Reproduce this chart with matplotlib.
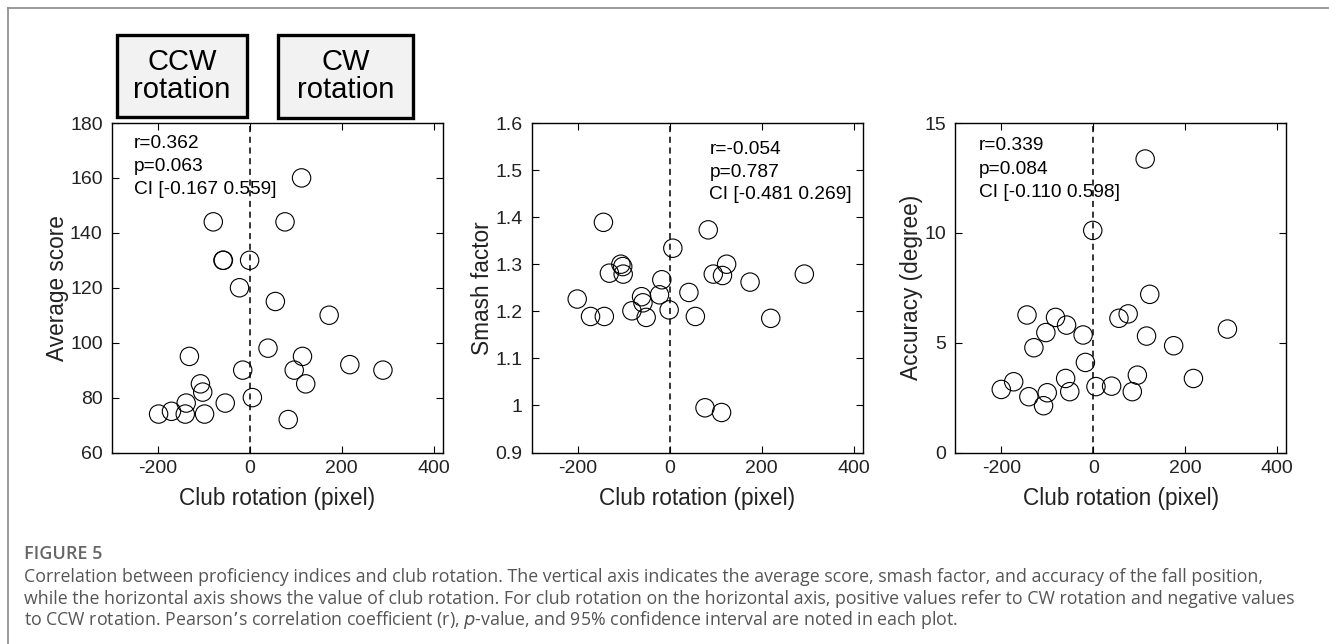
import matplotlib.pyplot as plt
from matplotlib.patches import Rectangle
from matplotlib.lines import Line2D

plt.rcParams['font.family'] = ['Liberation Sans', 'DejaVu Sans']
plt.rcParams['axes.unicode_minus'] = False

# club rotation (pixel) vs. proficiency indices
x_score = [-198, -170, -140, -138, -131, -107, -102, -98, -79, -58, -57, -53,
           -22, -15, 0, 6, 40, 56, 77, 84, 97, 113, 115, 122, 173, 218, 290]
y_score = [74, 75, 74, 78, 95, 85, 82, 74, 144, 130, 130, 78,
           120, 90, 130, 80, 98, 115, 144, 72, 90, 160, 95, 85, 110, 92, 90]

x_smash = [-201, -172, -142, -144, -131, -106, -102, -101, -82, -61, -58, -51,
           -22, -17, -1, 7, 42, 56, 84, 77, 95, 115, 124, 113, 175, 220, 293]
y_smash = [1.226, 1.189, 1.189, 1.389, 1.281, 1.300, 1.295, 1.279, 1.201, 1.231,
           1.218, 1.187, 1.235, 1.267, 1.203, 1.334, 1.240, 1.189, 1.373, 0.995,
           1.279, 1.276, 1.300, 0.985, 1.262, 1.185, 1.279]

x_acc = [-200, -173, -144, -140, -129, -108, -103, -100, -82, -58, -60, -51,
         -22, -17, -1, 6, 40, 56, 76, 85, 96, 113, 116, 123, 175, 218, 292]
y_acc = [2.87, 3.22, 6.26, 2.54, 4.77, 2.13, 5.46, 2.72, 6.15, 5.80, 3.37, 2.77,
         5.35, 4.10, 10.11, 3.00, 3.02, 6.11, 6.31, 2.77, 3.52, 13.36, 5.30, 7.20,
         4.86, 3.37, 5.62]

panels = [
    (x_score, y_score, 'Average score', (60, 180), [60, 80, 100, 120, 140, 160, 180],
     ['r=0.362', 'p=0.063', 'CI [-0.167 0.559]'], 111.7, 0.067, [0.925, 0.854, 0.784]),
    (x_smash, y_smash, 'Smash factor', (0.9, 1.6), [0.9, 1, 1.1, 1.2, 1.3, 1.4, 1.5, 1.6],
     ['r=-0.054', 'p=0.787', 'CI [-0.481 0.269]'], 531.7, 0.537, [0.907, 0.837, 0.768]),
    (x_acc, y_acc, 'Accuracy (degree)', (0, 15), [0, 5, 10, 15],
     ['r=0.339', 'p=0.084', 'CI [-0.110 0.598]'], 955.3, 0.072, [0.917, 0.846, 0.775]),
]

W, H = 1329, 644
fig = plt.figure(figsize=(W / 100, H / 100), dpi=100)

for xs, ys, ylab, ylim, yticks, stats, left, tx, tys in panels:
    ax = fig.add_axes([left / W, (H - 452.5) / H, 331 / W, 329.5 / H])
    ax.scatter(xs, ys, s=175, facecolors='none', edgecolors='black', linewidths=0.8, zorder=3)
    ax.axvline(0, color='black', ls=(0, (4, 3)), lw=1.1)
    ax.set_xlim(-300, 420)
    ax.set_ylim(*ylim)
    ax.set_xticks([-200, 0, 200, 400])
    ax.set_yticks(yticks)
    ax.set_yticklabels([('%g' % v) for v in yticks])
    ax.tick_params(direction='in', top=True, right=True, length=5, width=0.8,
                   labelsize=14, labelcolor='#222222')
    ax.tick_params(axis='x', pad=5.5)
    ax.tick_params(axis='y', pad=6.5)
    for sp in ax.spines.values():
        sp.set_linewidth(1.0)
    ax.set_xlabel('Club rotation (pixel)', fontsize=16.3, labelpad=7.3, color='#222222')
    ax.set_ylabel(ylab, fontsize=16.3, labelpad=1, color='#222222')
    for s, ty in zip(stats, tys):
        ax.text(tx, ty, s, transform=ax.transAxes, fontsize=13.8, va='baseline', ha='left')

# rotation direction boxes
for x0, x1, y0, y1, lab in [(117, 247, 35, 117, 'CCW\nrotation'),
                            (278, 413, 35, 118, 'CW\nrotation')]:
    fig.patches.append(Rectangle((x0 / W, 1 - y1 / H), (x1 - x0) / W, (y1 - y0) / H,
                                 transform=fig.transFigure, facecolor='#f2f2f2',
                                 edgecolor='black', linewidth=2.4))
    fig.text((x0 + x1) / 2 / W, 1 - (y0 + y1) / 2 / H, lab, ha='center', va='center',
             fontsize=21, linespacing=1.0)

# outer frame of the figure panel
fig.lines.append(Line2D([7.5 / W, 1], [1 - 8 / H, 1 - 8 / H], transform=fig.transFigure,
                        color='#8a8a8a', lw=1.2))
fig.lines.append(Line2D([7.5 / W, 7.5 / W], [0, 1 - 8 / H], transform=fig.transFigure,
                        color='#8a8a8a', lw=1.2))

fig.text(24 / W, 1 - 554 / H, 'FIGURE 5', family='Open Sans', fontsize=13,
         fontweight='semibold', color='#666666', va='center')
caption = ['Correlation between proficiency indices and club rotation. The vertical axis indicates the average score, smash factor, and accuracy of the fall position,',
           'while the horizontal axis shows the value of club rotation. For club rotation on the horizontal axis, positive values refer to CW rotation and negative values',
           'to CCW rotation. Pearson\u2019s correlation coefficient (r), $\\it{p}$-value, and 95% confidence interval are noted in each plot.']
for i, line in enumerate(caption):
    fig.text(24 / W, 1 - (577 + 21.5 * i) / H, line, family='Open Sans', fontsize=12.8,
             color='#555555', va='center')

fig.savefig('out.png', dpi=100)
